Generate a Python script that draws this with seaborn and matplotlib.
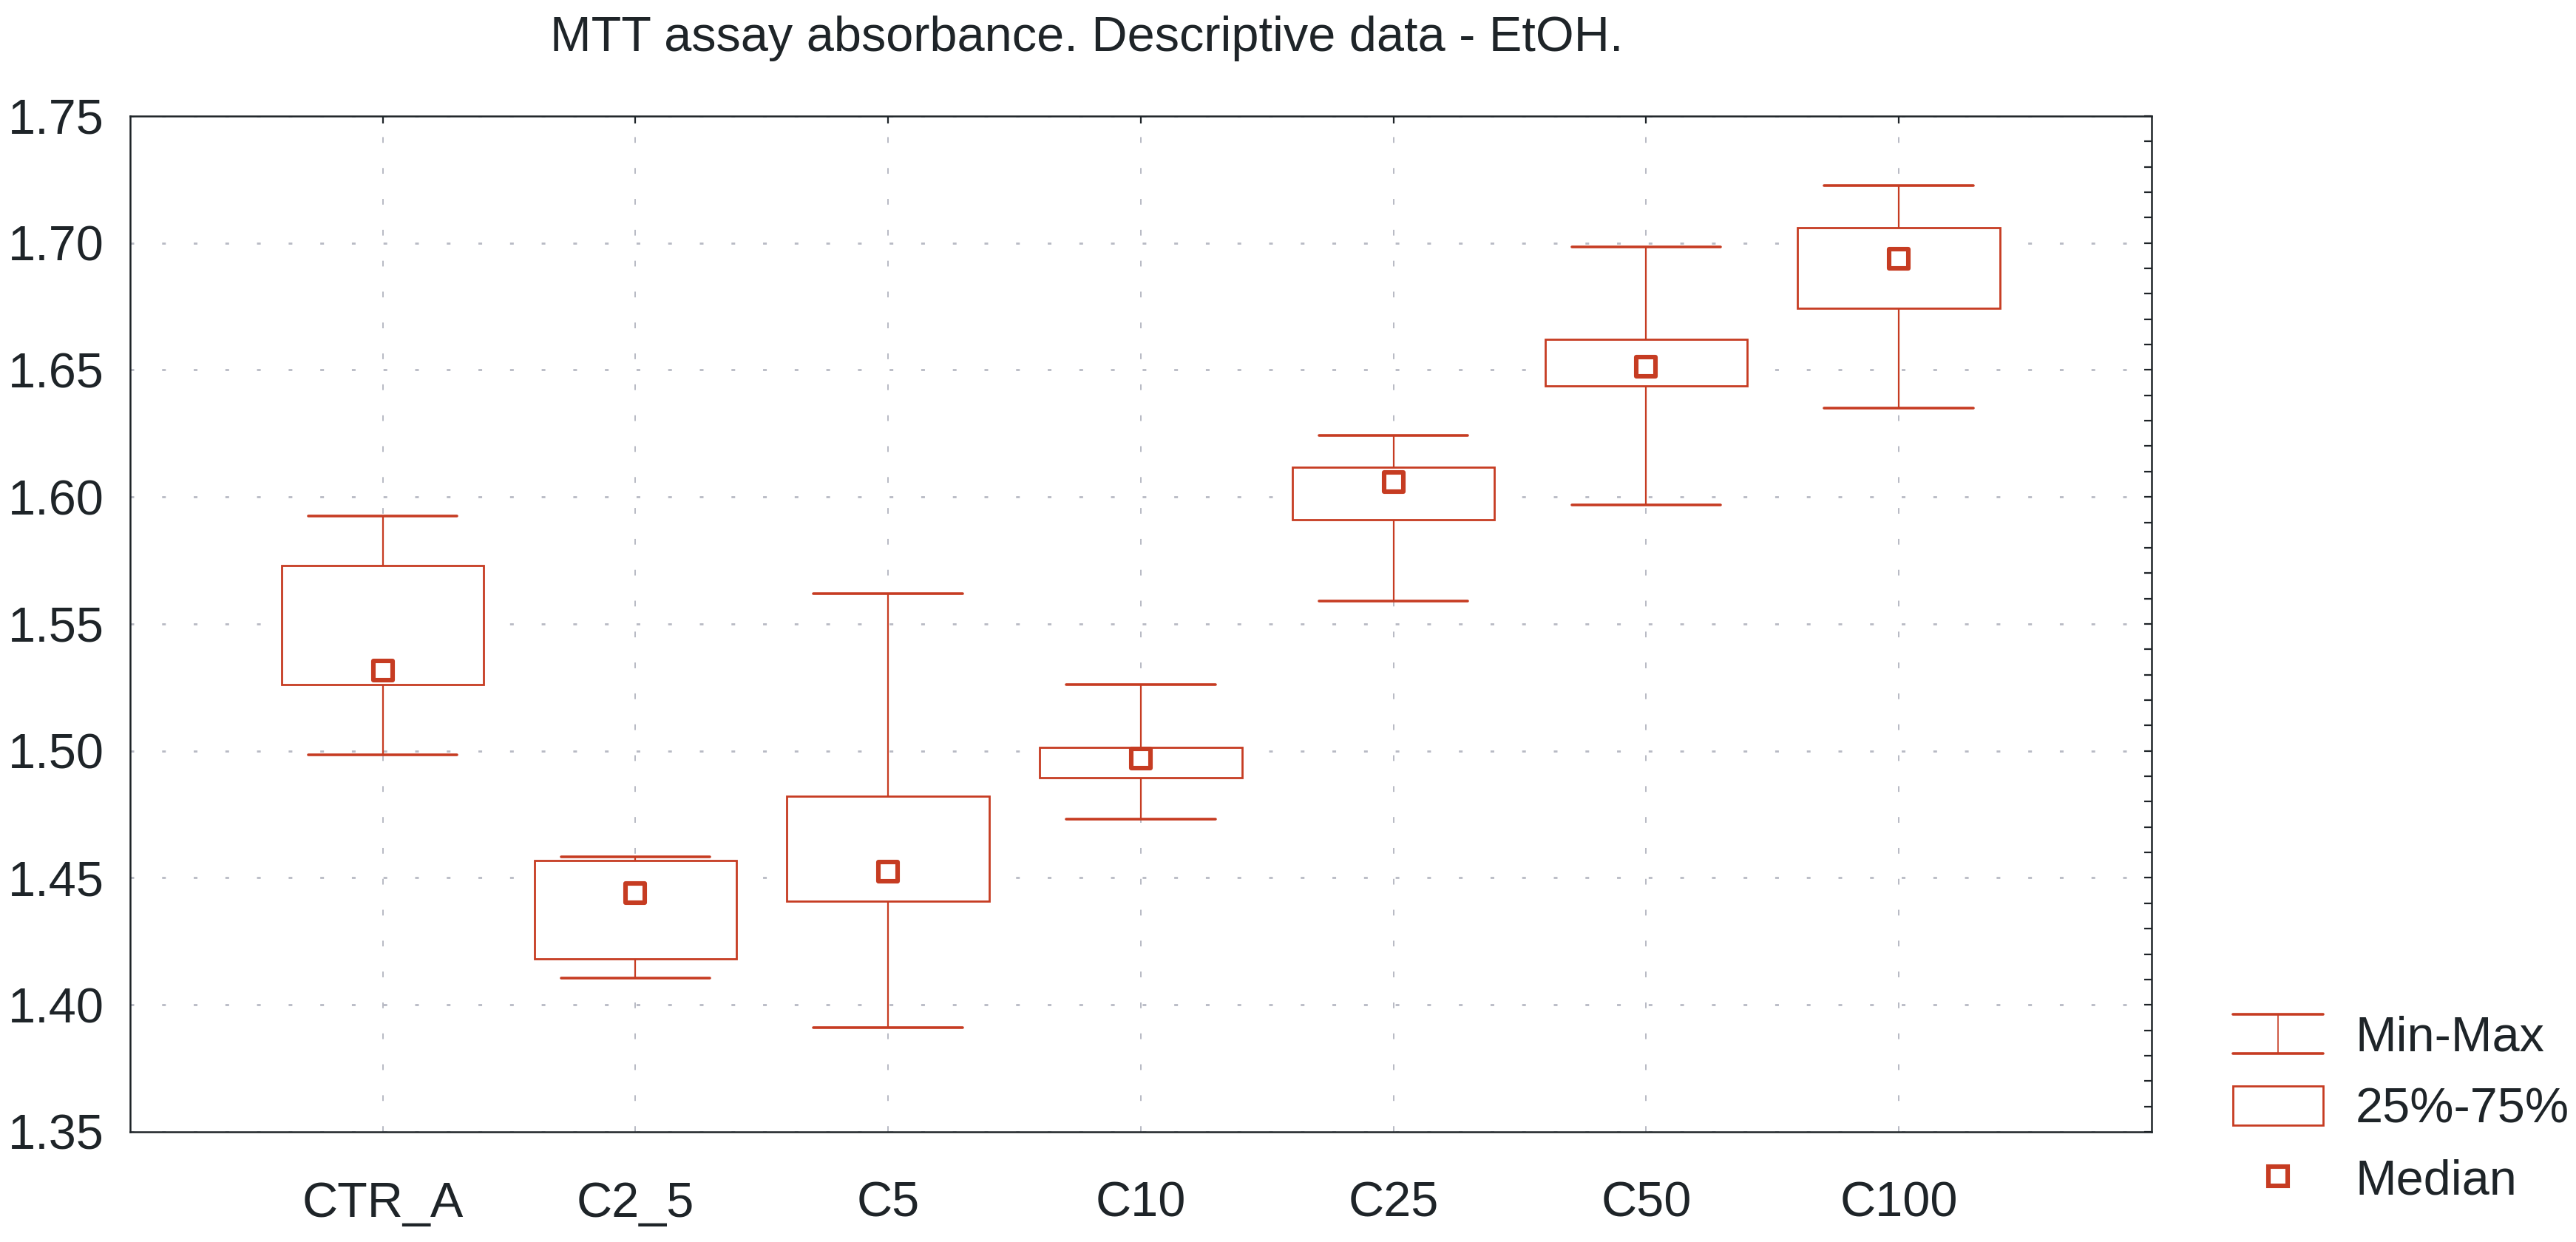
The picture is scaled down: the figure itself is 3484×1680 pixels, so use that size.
import numpy as np
import pandas as pd
import matplotlib
matplotlib.use("Agg")
import matplotlib.pyplot as plt
import matplotlib.ticker as mticker
from matplotlib.lines import Line2D
from matplotlib.patches import Patch
from matplotlib.legend_handler import HandlerBase
import seaborn as sns

# Statistiques
groups = ['CTR_A', 'C2_5', 'C5', 'C10', 'C25', 'C50', 'C100']
minimum = [1.4985, 1.4105, 1.3909, 1.4732, 1.5590, 1.5969, 1.6350]
q1 = [1.5262, 1.4180, 1.4408, 1.4895, 1.5909, 1.6438, 1.6743]
median = [1.5317, 1.4440, 1.4525, 1.4969, 1.6058, 1.6514, 1.6938]
q3 = [1.5731, 1.4567, 1.4821, 1.5015, 1.6118, 1.6620, 1.7060]
maximum = [1.5924, 1.4583, 1.5620, 1.5262, 1.6242, 1.6984, 1.7226]
yticks = [1.35, 1.40, 1.45, 1.50, 1.55, 1.60, 1.65, 1.70, 1.75]

RED = '#C63C22'
TXT = '#1E2428'
GRID = '#B8BAC4'

# 5 valeurs par groupe -> quartiles exacts avec whis=(0, 100)
rows = []
for i, g in enumerate(groups):
    for v in (minimum[i], q1[i], median[i], q3[i], maximum[i]):
        rows.append({'group': g, 'value': v})
df = pd.DataFrame(rows)
med_df = pd.DataFrame({'group': groups, 'median': median})

sns.set_style('white')
plt.rcParams['font.family'] = ['Liberation Sans', 'DejaVu Sans']

fig = plt.figure(figsize=(17.42, 8.4), dpi=200)
ax = fig.add_axes([0.0505, 0.0887, 0.7847, 0.8179])

sns.boxplot(data=df, x='group', y='value', order=groups, whis=(0, 100),
            color='white', linecolor=RED, linewidth=1.0, width=0.8,
            showfliers=False, capwidths=0.59,
            medianprops={'visible': False},
            whiskerprops={'linewidth': 0.8},
            capprops={'linewidth': 1.3},
            boxprops={'zorder': 3}, ax=ax)

sns.scatterplot(data=med_df, x='group', y='median', marker='s', s=88,
                color='white', edgecolor=RED, linewidth=2.2, zorder=5, ax=ax)

ax.set_xlim(-1, 7)
ax.set_ylim(1.35, 1.75)
ax.set_yticks(yticks)
ax.yaxis.set_major_formatter(mticker.FormatStrFormatter('%.2f'))
ax.yaxis.set_minor_locator(mticker.MultipleLocator(0.01))
ax.set_xlabel('')
ax.set_ylabel('')

ax.yaxis.grid(True, color=GRID, linewidth=1.0, linestyle=(0, (1.8, 13.6)), zorder=0)
ax.xaxis.grid(True, color=GRID, linewidth=0.7, linestyle=(0, (4, 17.5)), zorder=0)
ax.set_axisbelow(True)

ax.tick_params(axis='both', which='both', direction='in', top=True, right=True,
               length=3.6, width=0.8, color=TXT, labelsize=24, labelcolor=TXT)
ax.tick_params(axis='y', pad=12.6)
ax.tick_params(axis='x', pad=24)
for sp in ax.spines.values():
    sp.set_color(TXT)
    sp.set_linewidth(0.9)

fig.text(0.4219, 0.959, 'MTT assay absorbance. Descriptive data - EtOH.',
         ha='center', va='baseline', fontsize=24, color=TXT)


class MinMaxHandler(HandlerBase):
    def create_artists(self, legend, orig_handle, xdescent, ydescent,
                       width, height, fontsize, trans):
        x0, y0 = -xdescent, -ydescent
        cx = x0 + width / 2
        top = Line2D([x0, x0 + width], [y0 + height, y0 + height], color=RED, lw=1.3, transform=trans)
        bot = Line2D([x0, x0 + width], [y0, y0], color=RED, lw=1.3, transform=trans)
        mid = Line2D([cx, cx], [y0, y0 + height], color=RED, lw=0.6, transform=trans)
        return [top, bot, mid]


h_minmax = Line2D([], [], color=RED)
h_box = Patch(facecolor='white', edgecolor=RED, linewidth=1.0)
h_med = Line2D([], [], marker='s', linestyle='none', markersize=9.4,
               markerfacecolor='white', markeredgecolor=RED, markeredgewidth=2.2)

fig.legend([h_minmax, h_box, h_med], ['Min-Max', '25%-75%', 'Median'],
           handler_map={h_minmax: MinMaxHandler()},
           loc='lower left', bbox_to_anchor=(0.8668, 0.03), frameon=False,
           fontsize=24, labelcolor=TXT, handlelength=1.83, handleheight=0.85,
           handletextpad=0.66, labelspacing=0.5, borderpad=0, borderaxespad=0)

fig.savefig('out.png', dpi=200)
